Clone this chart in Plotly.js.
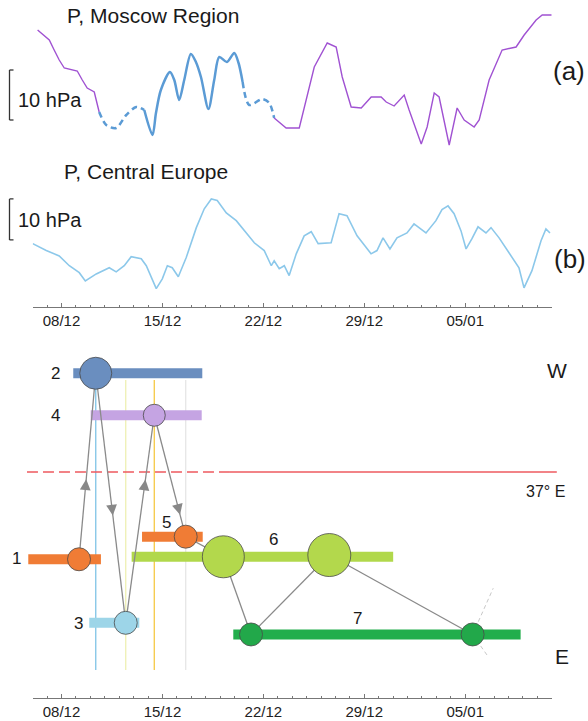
<!DOCTYPE html>
<html><head><meta charset="utf-8">
<script src="https://cdn.plot.ly/plotly-3.0.1.min.js"></script>
<style>html,body{margin:0;padding:0;background:#fff}#chart{width:588px;height:721px}</style>
</head><body><div id="chart"></div>
<script>
// ---------- axis ticks (days counted from 1 Dec) ----------
const tickVals = [8, 15, 22, 29, 36];
const tickText = ['08/12', '15/12', '22/12', '29/12', '05/01'];

// ---------- (a) pressure, Moscow region (hPa) ----------
const moscowDay = [6.34,7.15,7.49,7.84,8.19,9.09,9.44,9.78,10.27,10.61,
  11.10,11.79,12.49,13.18,13.74,
  14.31,14.55,14.89,15.52,15.82,16.16,16.51,16.97,17.32,17.67,18.19,18.59,18.94,19.47,19.98,20.28,20.56,
  21.02,21.92,22.41,22.75,
  23.10,23.58,24.49,24.97,25.53,26.43,27.05,27.47,28.09,28.79,29.48,30.17,30.52,31.07,31.77,32.11,32.95,
  33.36,33.85,34.19,34.89,35.44,35.93,36.62,36.97,37.66,38.56,39.53,40.09,40.92,41.34,42.0];
const moscowP = [1019.0,1017.0,1015.0,1013.0,1011.4,1010.8,1009.0,1007.4,1006.6,1002.6,
  1000.0,999.4,1002.0,1003.6,1003.0,
  998.0,1002.4,1007.0,1010.6,1009.0,1005.0,1009.0,1014.2,1012.6,1009.6,1003.2,1009.0,1013.6,1012.6,1014.4,1012.4,1008.6,
  1004.0,1005.2,1004.4,1001.4,
  1000.6,999.4,999.4,1005.0,1011.6,1016.4,1015.6,1009.6,1003.6,1003.4,1005.6,1005.6,1004.6,1003.8,1006.0,1003.0,996.2,
  999.6,1006.4,1005.6,996.0,1003.4,1001.0,999.6,1001.0,1009.0,1015.0,1015.6,1018.0,1021.0,1022.0,1022.0];
// segments: [first index, last index, kind]
const moscowSegStart = [0, 9, 14, 31, 35];
const moscowSegEnd   = [9, 14, 31, 35, 67];
const moscowSegKind  = ['station', 'gap', 'cluster', 'gap', 'station'];

// ---------- (b) pressure, Central Europe (hPa) ----------
const europeDay = [6.0,6.45,6.94,7.84,8.54,9.23,9.65,10.41,11.31,11.79,12.35,12.83,13.53,13.88,14.57,14.99,15.34,15.68,16.10,16.65,
  17.35,17.90,18.39,18.80,19.43,20.12,20.81,21.37,22.06,22.55,22.75,23.10,23.45,23.79,24.28,24.83,25.32,25.80,26.70,27.25,
  27.80,28.50,29.47,29.88,30.30,30.78,31.27,31.96,32.45,33.28,33.97,34.39,34.81,35.23,35.71,36.06,36.47,36.89,37.44,37.79,
  38.35,39.04,39.73,40.08,40.63,41.26,41.60,41.88];
const europeP = [1015.4,1014.6,1013.7,1012.4,1010.0,1008.3,1006.3,1008.0,1009.5,1008.5,1010.0,1012.2,1011.7,1010.0,1004.4,1006.8,1010.0,1009.5,1007.3,1012.0,
  1019.3,1023.9,1026.3,1025.9,1022.9,1021.0,1018.0,1015.6,1013.7,1010.0,1011.2,1009.3,1010.0,1007.6,1012.9,1017.3,1018.3,1015.4,1015.6,1022.7,
  1022.2,1017.3,1012.9,1013.7,1016.8,1014.1,1016.8,1018.0,1020.2,1018.0,1021.0,1023.7,1024.6,1022.7,1018.5,1014.1,1016.6,1019.5,1018.0,1019.3,
  1016.8,1013.2,1009.5,1004.6,1008.8,1016.1,1019.0,1018.0];
const scaleBarHPa = 10;
const scaleBarBaseA = 1001;
const scaleBarBaseB = 1016.3;

// ---------- lower diagram (W at top, E at bottom) ----------
const barLabel = ['1','2','3','4','5','6','7'];
const barStart = [5.64, 8.76, 9.87, 9.97, 13.53, 12.81, 19.86];
const barEnd   = [10.68, 17.71, 13.34, 17.67, 17.74, 30.95, 39.79];
const barLevel = [39.3, 92.0, 21.3, 80.1, 45.7, 40.0, 18.0];

const nodeBar   = [0, 1, 2, 3, 4, 5, 5, 6, 6];
const nodeDay   = [9.16, 10.32, 12.40, 14.38, 16.56, 19.17, 26.52, 21.09, 36.46];
const nodeLevel = [39.3, 92.0, 21.3, 80.1, 45.7, 40.0, 40.5, 18.0, 18.0];
const nodeMagnitude = [2.3, 3.2, 2.3, 2.2, 2.3, 4.2, 4.3, 2.3, 2.3];

const linkFrom = [0, 1, 2, 3, 4, 5, 7, 6];
const linkTo   = [1, 2, 3, 4, 5, 7, 6, 8];
const linkArrowAt = [0.43, 0.57, 0.69, 0.82, null, null, null, null];

const branchDay   = [37.89, 37.54];
const branchLevel = [31.1, 11.7];

const eventNode = [1, 2, 3, 4];
const eventTop  = [87.8, 90.1, 90.1, 90.1];
const eventBottom = 7.9;

const meridianLevel = 64.0;
const meridianFrom = 5.55, meridianSwitch = 19.63, meridianTo = 42.30;

// ---------- styles ----------
const W = 588, H = 721;
const px = x => x / W, py = y => 1 - y / H;
const barColor = ['#f07c35','#6a8ebf','#9dd5e8','#c5a4e3','#f07c35','#b1d84b','#22ae4c'];
const nodeColor = ['#f07c35','#6a8ebf','#9dd5e8','#c5a4e3','#f07c35','#b3d84c','#b3d84c','#22a84a','#22a84a'];
const eventColor = ['#80c4e6','#eef0b4','#f6c944','#e6e6e6'];
const segStyle = {
  station: {color:'#a052d2', width:1.4, dash:'solid', shape:'linear'},
  gap:     {color:'#5b9bd5', width:2.5, dash:'6px,4px', shape:'spline'},
  cluster: {color:'#5b9bd5', width:2.5, dash:'solid', shape:'spline'}
};

const traces = [];
// (a)
for (let s = 0; s < moscowSegStart.length; s++) {
  const st = segStyle[moscowSegKind[s]];
  traces.push({x: moscowDay.slice(moscowSegStart[s], moscowSegEnd[s] + 1),
    y: moscowP.slice(moscowSegStart[s], moscowSegEnd[s] + 1),
    xaxis:'x', yaxis:'y', mode:'lines', hoverinfo:'skip',
    line:{color:st.color, width:st.width, dash:st.dash, shape:st.shape, smoothing:0.8}});
}
// (b)
traces.push({x: europeDay, y: europeP, xaxis:'x', yaxis:'y2', mode:'lines', hoverinfo:'skip',
  line:{color:'#8cc8ea', width:1.6}});

// diagram: event verticals
eventNode.forEach((n, i) => {
  traces.push({x:[nodeDay[n], nodeDay[n]], y:[eventBottom, eventTop[i]], xaxis:'x2', yaxis:'y3',
    mode:'lines', hoverinfo:'skip', line:{color:eventColor[i], width:1.3}});
});
// meridian 37E
traces.push({x:[meridianFrom, meridianSwitch], y:[meridianLevel, meridianLevel], xaxis:'x2', yaxis:'y3',
  mode:'lines', hoverinfo:'skip', line:{color:'#ee5a5f', width:1.5, dash:'11px,5px'}});
traces.push({x:[meridianSwitch, meridianTo], y:[meridianLevel, meridianLevel], xaxis:'x2', yaxis:'y3',
  mode:'lines', hoverinfo:'skip', line:{color:'#ee5a5f', width:1.5}});
// branches
branchDay.forEach((d, i) => {
  traces.push({x:[nodeDay[8], d], y:[nodeLevel[8], branchLevel[i]], xaxis:'x2', yaxis:'y3',
    mode:'lines', hoverinfo:'skip', line:{color:'#c8c8c8', width:1, dash:'4px,3px'}});
});
// bars
barLabel.forEach((b, i) => {
  traces.push({x:[barStart[i], barEnd[i]], y:[barLevel[i], barLevel[i]], xaxis:'x2', yaxis:'y3',
    mode:'lines', hoverinfo:'skip', line:{color:barColor[i], width:10}});
});
// links
linkFrom.forEach((f, i) => {
  const t = linkTo[i];
  traces.push({x:[nodeDay[f], nodeDay[t]], y:[nodeLevel[f], nodeLevel[t]], xaxis:'x2', yaxis:'y3',
    mode:'lines', hoverinfo:'skip', line:{color:'#8a8a8a', width:1.3}});
});
// nodes
traces.push({x:nodeDay, y:nodeLevel, xaxis:'x2', yaxis:'y3', mode:'markers', hoverinfo:'skip',
  marker:{size:nodeMagnitude.map(m => m * 10), color:nodeColor, opacity:1, line:{color:'#4a4a4a', width:0.8}}});
// dummy for bottom axis
traces.push({x:[6, 42], y:[null, null], xaxis:'x3', yaxis:'y3', mode:'lines', hoverinfo:'skip', showlegend:false});

const minorVals = [];
for (let d = 6; d <= 42; d++) minorVals.push(d);

function timeAxis(anchor) {
  return {domain:[32.7 / W, 551.7 / W], range:[6, 42], anchor:anchor,
    tickmode:'array', tickvals:tickVals, ticktext:tickText, ticks:'inside', ticklen:4, tickwidth:1, tickcolor:'#777',
    showline:true, linecolor:'#777', linewidth:1.2, showgrid:false, zeroline:false,
    tickfont:{size:15, color:'#222'}, fixedrange:true,
    minor:{tickmode:'array', tickvals:minorVals, ticks:'inside', ticklen:2, tickwidth:1, tickcolor:'#777', showgrid:false}};
}

const ann = [];
function txt(t, x, y, size, xa) {
  ann.push({text:t, x:px(x), y:py(y), xref:'paper', yref:'paper', showarrow:false,
    xanchor:xa || 'center', yanchor:'middle', font:{size:size, color:'#1a1a1a'}});
}
txt('P, Moscow Region', 153, 16, 21);
txt('10 hPa', 16, 100, 20, 'left');
txt('(a)', 569, 71, 26);
txt('P, Central Europe', 146, 171, 21);
txt('10 hPa', 16, 220, 20, 'left');
txt('(b)', 570, 259, 26);
txt('W', 557, 370, 21);
txt('37° E', 545.5, 491, 16);
txt('E', 562, 656, 21);
const labelPos = [[16,558.5],[55.5,373],[78,623],[55.5,415],[166,522],[273.5,539],[357,618.5]];
barLabel.forEach((b, i) => txt(b, labelPos[i][0], labelPos[i][1], 17));

// arrows on links
linkFrom.forEach((f, i) => {
  const a = linkArrowAt[i];
  if (a === null) return;
  const t = linkTo[i];
  const at = fr => [nodeDay[f] + (nodeDay[t] - nodeDay[f]) * fr, nodeLevel[f] + (nodeLevel[t] - nodeLevel[f]) * fr];
  const tip = at(a), tail = at(a - 0.05);
  ann.push({x:tip[0], y:tip[1], ax:tail[0], ay:tail[1], xref:'x2', yref:'y3', axref:'x2', ayref:'y3',
    showarrow:true, text:'', arrowhead:2, arrowsize:1.8, arrowwidth:1.2, arrowcolor:'#888', standoff:0, startstandoff:0});
});

const shapes = [];
function bracket(yref, base) {
  const x0 = px(9.5), x1 = px(13.5);
  const st = {color:'#333', width:1.3};
  shapes.push({type:'line', xref:'paper', yref:yref, x0:x0, x1:x0, y0:base, y1:base + scaleBarHPa, line:st});
  shapes.push({type:'line', xref:'paper', yref:yref, x0:x0, x1:x1, y0:base, y1:base, line:st});
  shapes.push({type:'line', xref:'paper', yref:yref, x0:x0, x1:x1, y0:base + scaleBarHPa, y1:base + scaleBarHPa, line:st});
}
bracket('y', scaleBarBaseA);
bracket('y2', scaleBarBaseB);

const layout = {
  width:W, height:H, margin:{l:0, r:0, t:0, b:0},
  paper_bgcolor:'#ffffff', plot_bgcolor:'rgba(0,0,0,0)', showlegend:false,
  font:{family:'"Liberation Sans", Arial, sans-serif', color:'#1a1a1a'},
  xaxis: timeAxis('y2'),
  yaxis: {domain:[py(150), py(10)], range:[995, 1023], visible:false, anchor:'x', fixedrange:true},
  yaxis2:{domain:[py(306.7), py(185)], range:[1000, 1029.7], visible:false, anchor:'x', fixedrange:true},
  xaxis2:{domain:[0, 1], range:[8 - 62.3 / 14.417, 8 + (588 - 62.3) / 14.417], visible:false, anchor:'y3', fixedrange:true},
  yaxis3:{domain:[py(698), py(345)], range:[0, 100], visible:false, anchor:'x2', fixedrange:true},
  xaxis3: timeAxis('y3'),
  annotations: ann, shapes: shapes
};
Plotly.newPlot('chart', traces, layout, {displayModeBar:false, staticPlot:true});
</script></body></html>
